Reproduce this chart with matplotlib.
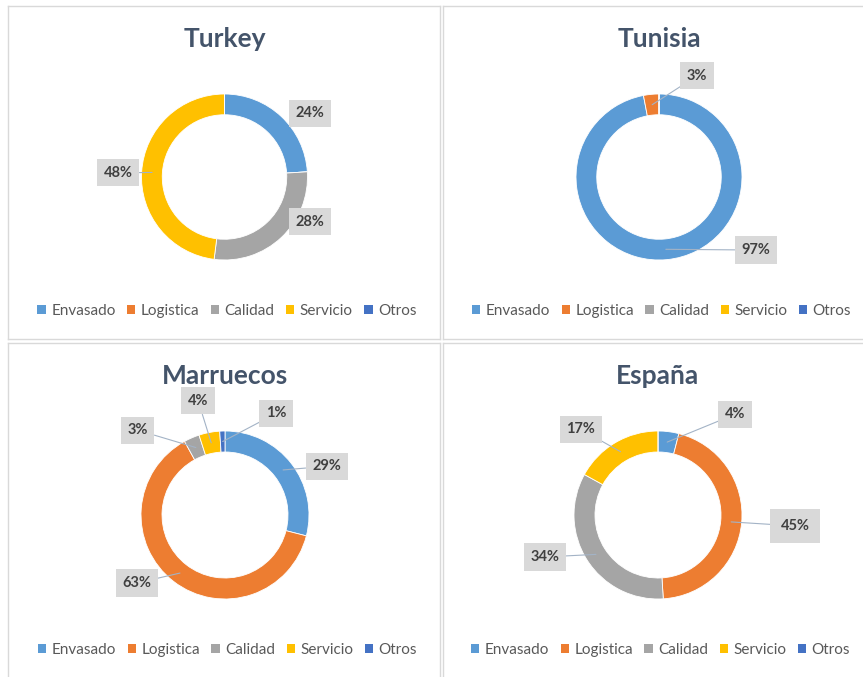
import numpy as np
import matplotlib
matplotlib.use("Agg")
import matplotlib.pyplot as plt
from matplotlib.patches import Patch

plt.rcParams['font.family'] = ['Lato', 'DejaVu Sans']

# data
categories = ["Envasado", "Logistica", "Calidad", "Servicio", "Otros"]
colors = ["#5B9BD5", "#ED7D31", "#A5A5A5", "#FFC000", "#4472C4"]

countries = ["Turkey", "Tunisia", "Marruecos", "España"]
turkey = [24, 0, 28, 48, 0]
tunisia = [97, 3, 0, 0, 0]
marruecos = [29, 63, 3, 4, 1]
espana = [4, 45, 34, 17, 0]
values = [turkey, tunisia, marruecos, espana]

# label box offsets (in ring radii) and whether a leader line is drawn
turkey_lbl = [(1.03, 0.77, False), None, (1.03, -0.54, False), (-1.28, 0.05, True), None]
tunisia_lbl = [(1.17, -0.88, True), (0.46, 1.22, True), None, None, None]
marruecos_lbl = [(1.21, 0.58, True), (-1.05, -0.81, True), (-1.04, 1.01, True),
                 (-0.32, 1.36, True), (0.61, 1.21, True)]
espana_lbl = [(0.92, 1.20, True), (1.63, -0.13, True), (-1.35, -0.50, True),
              (-0.92, 1.02, True), None]
labels = [turkey_lbl, tunisia_lbl, marruecos_lbl, espana_lbl]

# panel layout in pixels: x0, y0, w, h, center x, center y, radius
W, H = 863, 677
panels = [(8, 6, 432, 333, 224.5, 177, 83),
          (443, 6, 430, 333, 659, 177, 83),
          (8, 343, 432, 345, 225, 515, 84),
          (443, 343, 430, 345, 658, 515, 84)]

fig = plt.figure(figsize=(W / 100, H / 100), dpi=100)
fig.patch.set_facecolor("white")

for name, vals, lbls, (x0, y0, w, h, cx, cy, R) in zip(countries, values, labels, panels):
    ax = fig.add_axes([x0 / W, 1 - (y0 + h) / H, w / W, h / H])
    wedges, _ = ax.pie(vals, colors=colors, startangle=90, counterclock=False, radius=1,
                       wedgeprops=dict(width=0.25, edgecolor="white", linewidth=0.6))
    ax.set_aspect("auto")
    ax.set_xlim((x0 - cx) / R, (x0 + w - cx) / R)
    ax.set_ylim((cy - (y0 + h)) / R, (cy - y0) / R)
    ax.set_frame_on(True)
    ax.set_xticks([])
    ax.set_yticks([])
    for sp in ax.spines.values():
        sp.set_edgecolor("#d9d9d9")
        sp.set_linewidth(1)

    # data labels
    for wdg, v, lb in zip(wedges, vals, lbls):
        if lb is None or v == 0:
            continue
        dx, dy, leader = lb
        mid = np.deg2rad((wdg.theta1 + wdg.theta2) / 2)
        anchor = (0.875 * np.cos(mid), 0.875 * np.sin(mid))
        pad = 0.7 if v == 45 else 0.45
        bbox = dict(boxstyle=f"square,pad={pad}", fc="#d9d9d9", ec="none")
        if leader:
            ax.annotate(f"{v}%", xy=anchor, xytext=(dx, dy), ha="center", va="center",
                        fontsize=10.5, fontweight="bold", color="#404040", bbox=bbox,
                        arrowprops=dict(arrowstyle="-", color="#a3b3c6", lw=0.8,
                                        shrinkA=0, shrinkB=0))
        else:
            ax.text(dx, dy, f"{v}%", ha="center", va="center", fontsize=10.5,
                    fontweight="bold", color="#404040", bbox=bbox)

    ax.text(0, 1.66, name, ha="center", va="center", fontsize=19,
            fontweight="bold", color="#44546A")

    handles = [Patch(facecolor=c, edgecolor="none") for c in colors]
    ax.legend(handles, categories, loc="center", bbox_to_anchor=(0.03, -1.61),
              bbox_transform=ax.transData, ncol=5, frameon=False, fontsize=11,
              handlelength=0.55, handleheight=0.55, handletextpad=0.35,
              columnspacing=0.75, labelcolor="#595959")

fig.savefig("out.png", dpi=100, facecolor="white")
